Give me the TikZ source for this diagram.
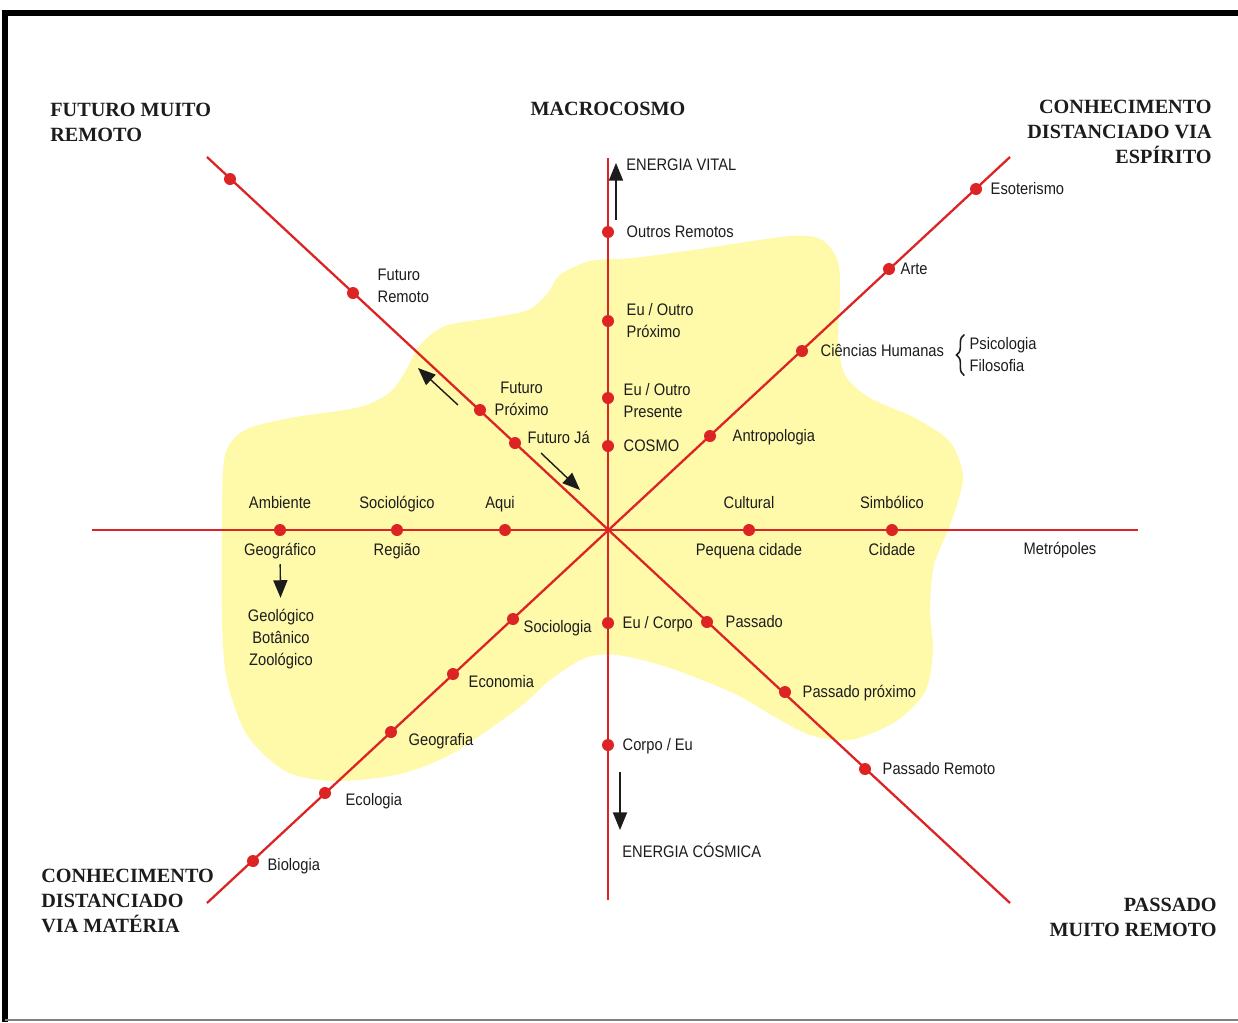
\documentclass[tikz,border=0pt]{standalone}
\usepackage{fontspec}
\setmainfont{Liberation Serif}
\newfontfamily\lblfont[FakeStretch=0.88]{Liberation Sans}
\usetikzlibrary{arrows.meta,positioning,decorations.pathreplacing}
\definecolor{axisred}{RGB}{221,36,36}
\definecolor{blobyellow}{RGB}{255,249,170}
\definecolor{ink}{RGB}{28,28,28}

\begin{document}
\begin{tikzpicture}[x=0.02cm,y=-0.02cm,>={Triangle[length=10pt,width=8pt]},
	axis/.style={axisred,line width=1.3pt},
	dot/.style={circle,fill=axisred,inner sep=0pt,minimum size=0.24cm},
	lbl/.style={font=\lblfont\fontsize{9.5}{12.5}\selectfont,text=ink,inner sep=0pt},
	lbl1/.style={lbl,text height=8pt,text depth=1.5pt},
	corner/.style={font=\bfseries\fontsize{11.5}{14.2}\selectfont,text=ink,inner sep=0pt},
	flow/.style={->,ink,line width=0.8pt}]
	\useasboundingbox (0,0) rectangle (1238,1022);
	% frame
	\draw[line width=3pt] (5,1022) -- (5,13) -- (1238,13);
	\draw[gray,line width=1pt] (5,1020) -- (1238,1020);
	% yellow zone
	\fill[blobyellow] plot[smooth cycle,tension=0.5] coordinates {
		(560,275) (590,261) (633,258) (700,249) (790,236) (822,240) (838,262) (840,300)
		(838,340) (845,375) (870,398) (915,418) (950,442) (963,478) (950,525) (934,565)
		(930,610) (933,650) (925,692) (895,722) (850,740) (810,735) (775,717) (733,693)
		(667,667) (617,655) (585,658) (550,680) (520,707) (453,753) (400,774) (337,781)
		(287,772) (247,735) (227,680) (222,620) (222,520) (225,455) (245,430) (290,418)
		(360,407) (390,392) (405,372) (420,345) (445,326) (490,318) (528,310) (547,294)};
	% axes
	\coordinate (h_w) at (92,530);
	\coordinate (h_e) at (1138,530);
	\coordinate (v_n) at (608,158);
	\coordinate (v_s) at (608,900);
	\coordinate (nw) at (207,157);
	\coordinate (se) at (1010,903);
	\coordinate (sw) at (207,903);
	\coordinate (ne) at (1010,157);
	\draw[axis] (h_w) -- (h_e);
	\draw[axis] (v_n) -- (v_s);
	\draw[axis] (nw) -- (se);
	\draw[axis] (sw) -- (ne);
	% dots
	\node[dot] (fmr) at (230,179) {};
	\node[dot] (fr) at (353,293) {};
	\node[dot] (fp) at (480,410) {};
	\node[dot] (fj) at (515,443) {};
	\node[dot] (or) at (608,232) {};
	\node[dot] (eop) at (608,321) {};
	\node[dot] (eopr) at (608,398) {};
	\node[dot] (cos) at (608,446) {};
	\node[dot] (ec) at (608,623) {};
	\node[dot] (ce) at (608,745) {};
	\node[dot] (eso) at (976,189) {};
	\node[dot] (arte) at (889,269) {};
	\node[dot] (ch) at (802,351) {};
	\node[dot] (antr) at (710,436) {};
	\node[dot] (amb) at (280,530) {};
	\node[dot] (soc) at (397,530) {};
	\node[dot] (aqui) at (505,530) {};
	\node[dot] (cult) at (749,530) {};
	\node[dot] (simb) at (892,530) {};
	\node[dot] (soci) at (513,619) {};
	\node[dot] (econ) at (453,674) {};
	\node[dot] (geog) at (391,732) {};
	\node[dot] (ecol) at (325,793) {};
	\node[dot] (bio) at (253,861) {};
	\node[dot] (pas) at (707,622) {};
	\node[dot] (pasp) at (785,692) {};
	\node[dot] (pasr) at (865,769) {};
	% labels on the vertical axis
	\node[lbl1,anchor=west] (ev) at (626,165) {ENERGIA VITAL};
	\node[lbl1,right=0.24cm of or] (or_l) {Outros Remotos};
	\node[lbl,align=left,right=0.24cm of eop] (eop_l) {Eu / Outro\\Próximo};
	\node[lbl,align=left,right=0.18cm of eopr,yshift=-0.06cm] (eopr_l) {Eu / Outro\\Presente};
	\node[lbl1,right=0.18cm of cos] (cos_l) {COSMO};
	\node[lbl1,right=0.16cm of ec] (ec_l) {Eu / Corpo};
	\node[lbl1,right=0.16cm of ce] (ce_l) {Corpo / Eu};
	\node[lbl1,anchor=west] (ecos) at (622,852) {ENERGIA CÓSMICA};
	% future
	\node[lbl,align=left,right=0.36cm of fr,yshift=0.14cm] (fr_l) {Futuro\\Remoto};
	\node[lbl,align=center,right=0.16cm of fp,yshift=0.22cm] (fp_l) {Futuro\\Próximo};
	\node[lbl1,right=0.12cm of fj,yshift=0.1cm] (fj_l) {Futuro Já};
	% spirit
	\node[lbl1,right=0.16cm of eso] (eso_l) {Esoterismo};
	\node[lbl1,right=0.1cm of arte] (arte_l) {Arte};
	\node[lbl1,right=0.24cm of ch] (ch_l) {Ciências Humanas};
	\node[lbl,align=left,right=0.5cm of ch_l,yshift=-0.08cm] (psi) {Psicologia\\Filosofia};
	\draw[ink,line width=0.9pt,decorate,decoration={brace,amplitude=4.5pt}]
		([xshift=-0.1cm,yshift=-0.06cm]psi.south west) -- ([xshift=-0.1cm,yshift=0.06cm]psi.north west);
	\node[lbl1,right=0.32cm of antr] (antr_l) {Antropologia};
	% horizontal axis
	\node[lbl1,above=0.25cm of amb] (amb_l) {Ambiente};
	\node[lbl1,below=0.09cm of amb] (amb_b) {Geográfico};
	\node[lbl,align=center] (geol) at (281,639) {Geológico\\Botânico\\Zoológico};
	\node[lbl1,above=0.25cm of soc] (soc_l) {Sociológico};
	\node[lbl1,below=0.09cm of soc] (soc_b) {Região};
	\node[lbl1,above=0.25cm of aqui,xshift=-0.1cm] (aqui_l) {Aqui};
	\node[lbl1,above=0.25cm of cult] (cult_l) {Cultural};
	\node[lbl1,below=0.09cm of cult] (cult_b) {Pequena cidade};
	\node[lbl1,above=0.25cm of simb] (simb_l) {Simbólico};
	\node[lbl1,below=0.09cm of simb] (simb_b) {Cidade};
	\node[lbl1] (metro) at (1060,549) {Metrópoles};
	% matter
	\node[lbl1,right=0.08cm of soci,yshift=-0.16cm] (soci_l) {Sociologia};
	\node[lbl1,right=0.18cm of econ,yshift=-0.16cm] (econ_l) {Economia};
	\node[lbl1,right=0.22cm of geog,yshift=-0.16cm] (geog_l) {Geografia};
	\node[lbl1,right=0.28cm of ecol,yshift=-0.14cm] (ecol_l) {Ecologia};
	\node[lbl1,right=0.16cm of bio,yshift=-0.08cm] (bio_l) {Biologia};
	% past
	\node[lbl1,right=0.24cm of pas] (pas_l) {Passado};
	\node[lbl1,right=0.22cm of pasp] (pasp_l) {Passado próximo};
	\node[lbl1,right=0.22cm of pasr] (pasr_l) {Passado Remoto};
	% arrows
	\coordinate (ev_a) at (616,220);
	\coordinate (ev_b) at (616,163);
	\coordinate (ecos_a) at (620,772);
	\coordinate (ecos_b) at (620,830);
	\coordinate (fut_a) at (458,405);
	\coordinate (fut_b) at (418,368);
	\coordinate (fj_a) at (541,453);
	\coordinate (fj_b) at (580,490);
	\draw[flow] (ev_a) -- (ev_b);
	\draw[flow] (ecos_a) -- (ecos_b);
	\draw[flow] (fut_a) -- (fut_b);
	\draw[flow] (fj_a) -- (fj_b);
	\draw[flow,shorten <=0.12cm,shorten >=0.22cm] (amb_b) -- (geol);
	% corners
	\node[corner,align=center] (macro) at (608,109) {MACROCOSMO};
	\node[corner,align=left,anchor=west] (fmr_t) at (50,122) {FUTURO MUITO\\REMOTO};
	\node[corner,align=right,anchor=east] (esp_t) at (1212,132) {CONHECIMENTO\\DISTANCIADO VIA\\ESPÍRITO};
	\node[corner,align=left,anchor=west] (mat_t) at (41,901) {CONHECIMENTO\\DISTANCIADO\\VIA MATÉRIA};
	\node[corner,align=right,anchor=east] (pmr_t) at (1217,917) {PASSADO\\MUITO REMOTO};
\end{tikzpicture}
\end{document}
